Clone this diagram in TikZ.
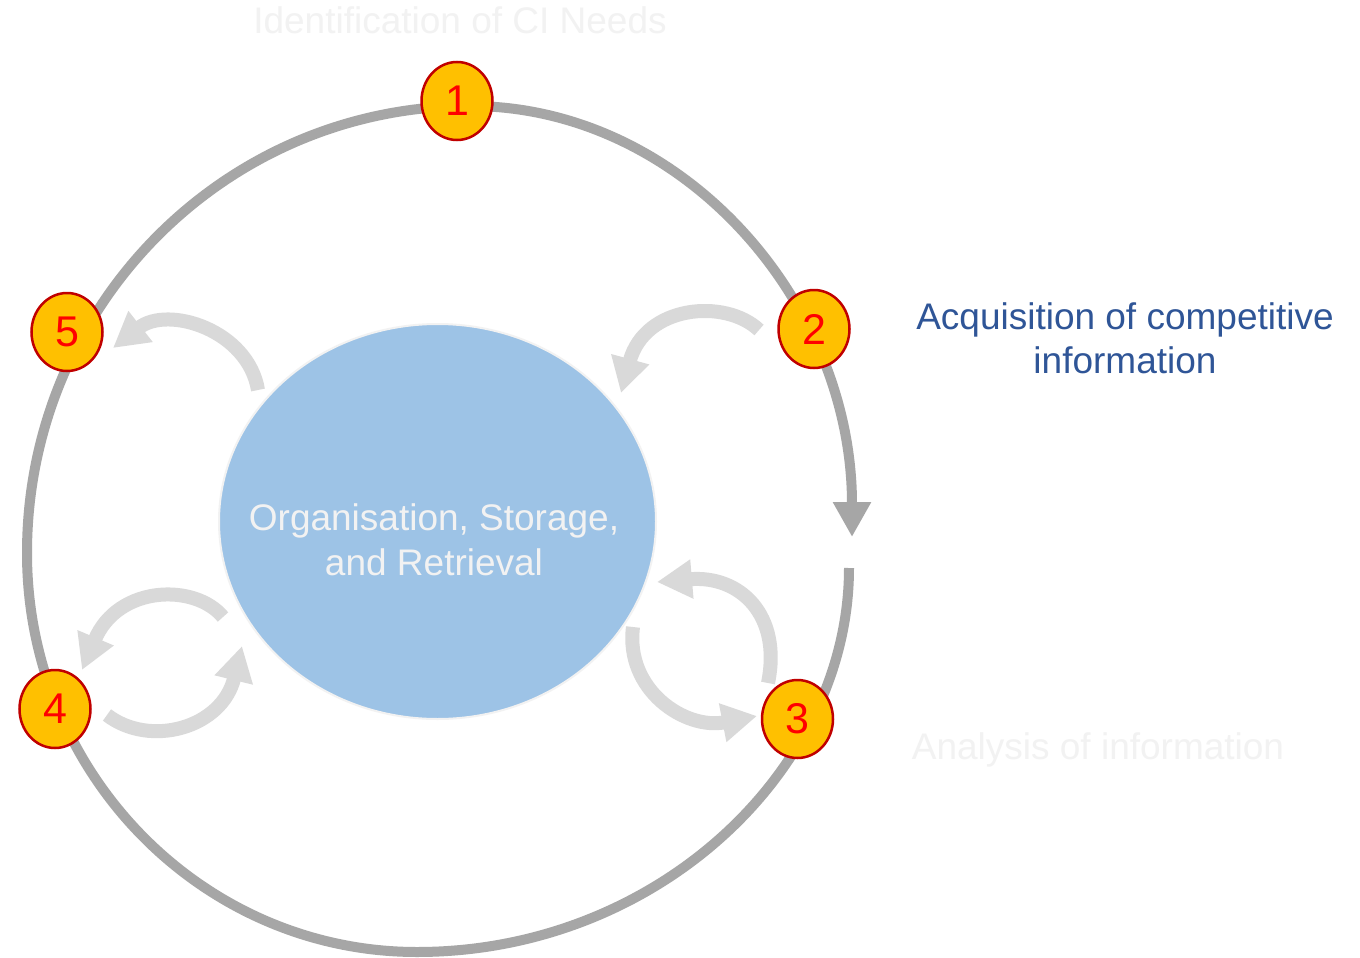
\documentclass[tikz,border=0pt]{standalone}
\usepackage{fontspec}
\setmainfont{Liberation Sans}
\usetikzlibrary{arrows.meta,shapes.geometric}
\definecolor{ringgray}{HTML}{A6A6A6}
\definecolor{arrgray}{HTML}{D9D9D9}
\definecolor{coreblue}{HTML}{9DC3E6}
\definecolor{faint}{HTML}{F2F2F2}
\definecolor{titleblue}{HTML}{2F5597}
\definecolor{badgefill}{HTML}{FFC000}
\definecolor{badgeborder}{HTML}{C00000}
\newcommand\bigtxt{\fontsize{37}{44}\selectfont}
\newcommand\numtxt{\fontsize{43}{50}\selectfont}
\tikzset{
  garrow/.style={draw=arrgray, line width=14pt, -{Triangle[length=35pt,width=37pt]}},
  badge/.style={ellipse, fill=badgefill, draw=badgeborder, line width=2.5pt,
    minimum width=71pt, minimum height=78pt, inner sep=0pt, text=red, font=\numtxt},
  lbl/.style={anchor=base, font=\bigtxt, inner sep=0pt},
}
\begin{document}
\begin{tikzpicture}[x=1pt,y=-1pt]
\useasboundingbox (0,0) rectangle (1360,958);
\fill[white] (0,0) rectangle (1360,958);

% outer ring with arrow
\coordinate (rs) at (849,568);
\coordinate (rb) at (417,952);
\coordinate (rl) at (27,553);
\coordinate (rt) at (470,106);
\coordinate (re) at (852,537);
\draw[ringgray, line width=10pt, -{Triangle[length=35pt,width=36pt]}]
  (rs) .. controls (849,770) and (657,952) .. (rb)
       .. controls (202,952) and (27,773) .. (rl)
       .. controls (27,306) and (225,106) .. (rt)
       .. controls (681,106) and (852,300) .. (re);

% core ellipse
\node[ellipse, fill=coreblue, draw=faint, line width=2pt, minimum width=437pt,
  minimum height=395pt, inner sep=0pt] (core) at (437.5,521.5) {};
\node[lbl, text=faint] (coreA) at (434,530) {Organisation, Storage,};
\node[lbl, text=faint] (coreB) at (434,575) {and Retrieval};

% curved grey arrows
\coordinate (a5s) at (258,390); \coordinate (a5e) at (113,348);
\draw[garrow] (a5s) .. controls (248,330) and (168,305) .. (a5e);
\coordinate (a2s) at (759,330); \coordinate (a2e) at (621,393);
\draw[garrow] (a2s) .. controls (725,298) and (645,305) .. (a2e);
\coordinate (a3as) at (768,683); \coordinate (a3ae) at (657,582);
\draw[garrow] (a3as) .. controls (782,615) and (740,575) .. (a3ae);
\coordinate (a3bs) at (633,627); \coordinate (a3be) at (757,716);
\draw[garrow] (a3bs) .. controls (625,690) and (685,730) .. (a3be);
\coordinate (a4as) at (223,617); \coordinate (a4ae) at (82,670);
\draw[garrow] (a4as) .. controls (195,583) and (118,585) .. (a4ae);
\coordinate (a4bs) at (107,715); \coordinate (a4be) at (242,646);
\draw[garrow] (a4bs) .. controls (150,748) and (222,728) .. (a4be);

% badges
\node[badge] (b1) at (457,101) {1};
\node[badge] (b2) at (814,329) {2};
\node[badge] (b3) at (797.5,719) {3};
\node[badge] (b4) at (55,709) {4};
\node[badge] (b5) at (67,332) {5};

% labels
\node[lbl, text=faint] (t1) at (460,34) {Identification of CI Needs};
\node[lbl, text=titleblue] (t2a) at (1125,329) {Acquisition of competitive};
\node[lbl, text=titleblue] (t2b) at (1125,373) {information};
\node[lbl, text=faint] (t3) at (1098,759) {Analysis of information};
\end{tikzpicture}
\end{document}
